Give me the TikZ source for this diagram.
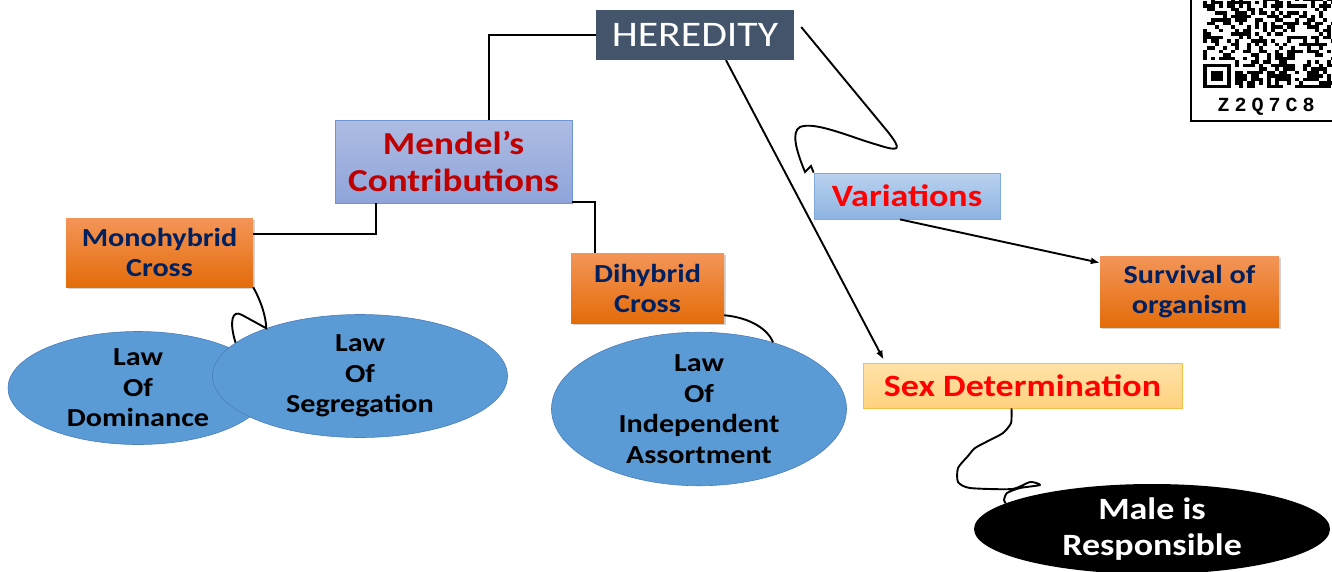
\documentclass[tikz,border=0pt]{standalone}
\usepackage{fontspec}
\setmainfont{Carlito}[FakeStretch=1.16]
\newfontfamily\qrfont{Liberation Mono}[LetterSpace=25]
\usetikzlibrary{shapes.geometric,shadows,arrows.meta}
\definecolor{slate}{HTML}{44546A}
\definecolor{navy}{HTML}{002060}
\definecolor{darkred}{HTML}{C00000}
\definecolor{brightred}{HTML}{FF0000}
\definecolor{orangetop}{HTML}{F39558}
\definecolor{orangebot}{HTML}{E46C0A}
\definecolor{lavtop}{HTML}{AEBCE3}
\definecolor{lavbot}{HTML}{8EA4D9}
\definecolor{lavedge}{HTML}{6E95D3}
\definecolor{skytop}{HTML}{BAD2EE}
\definecolor{skybot}{HTML}{8DB3E2}
\definecolor{skyedge}{HTML}{80AADB}
\definecolor{sandtop}{HTML}{FFE2A8}
\definecolor{sandbot}{HTML}{FFD27F}
\definecolor{sandedge}{HTML}{F7BE45}
\definecolor{lawblue}{HTML}{5B9BD5}
\definecolor{lawedge}{HTML}{4A7EBB}
\begin{document}
\begin{tikzpicture}[x=1pt,y=-1pt,
  link/.style={line width=1.9pt},
  tip/.style={-{Latex[length=9pt,width=7pt]}},
  crossbox/.style={rectangle,inner sep=0pt,align=center,text=navy,
    top color=orangetop,bottom color=orangebot,
    drop shadow={shadow xshift=2pt,shadow yshift=-2pt,opacity=0.35},
    font=\bfseries\fontsize{26}{30}\selectfont},
  lawblob/.style={ellipse,inner sep=0pt,align=center,fill=lawblue,
    draw=lawedge,line width=0.6pt,font=\bfseries\fontsize{26}{30.5}\selectfont},
  topicbox/.style={rectangle,inner sep=0pt,align=center,line width=0.8pt,
    font=\bfseries\fontsize{31}{37}\selectfont}]
\useasboundingbox (0,0) rectangle (1332,571);

\node [rectangle,fill=slate,text=white,minimum width=198pt,minimum height=50pt,
  font=\fontsize{36}{40}\selectfont] (heredity) at (695,35) {HEREDITY};
\node [topicbox,top color=lavtop,bottom color=lavbot,draw=lavedge,text=darkred,
  minimum width=237pt,minimum height=83pt,font=\bfseries\fontsize{32}{37}\selectfont]
  (mendel) at (453.5,161.5) {Mendel's\\Contributions};
\node [crossbox,minimum width=187pt,minimum height=69pt] (mono) at (159.5,252.5) {Monohybrid\\Cross};
\node [crossbox,minimum width=153pt,minimum height=70pt] (di) at (647.5,288) {Dihybrid\\Cross};
\node [crossbox,minimum width=179pt,minimum height=71pt] (surv) at (1189.5,291.5) {Survival of\\organism};
\node [topicbox,top color=skytop,bottom color=skybot,draw=skyedge,text=brightred,
  minimum width=186pt,minimum height=46pt] (var) at (907,196) {Variations};
\node [topicbox,top color=sandtop,bottom color=sandbot,draw=sandedge,text=brightred,
  minimum width=319pt,minimum height=45pt] (sex) at (1022.5,385.5) {Sex Determination};

\node [lawblob,minimum width=260pt,minimum height=113pt] (dom) at (138,388) {Law\\Of\\Dominance};
\node [lawblob,minimum width=295pt,minimum height=123pt] (seg) at (360,376) {Law\\Of\\Segregation};
\node [lawblob,minimum width=295pt,minimum height=145pt] (ind) at (699,409) {Law\\Of\\Independent\\Assortment};
\node [ellipse,fill=black,text=white,inner sep=0pt,align=center,minimum width=356pt,
  minimum height=90pt,font=\bfseries\fontsize{31}{36}\selectfont] (male) at (1152,529) {Male is\\Responsible};

\draw [link] (heredity.west) -| ([xshift=35.5pt]mendel.north);
\draw [link] ([xshift=-77.5pt]mendel.south) |- ([yshift=18.5pt]mono.east);
\draw [link] ([yshift=1pt]mendel.south east) -| ([xshift=-52.5pt]di.north);
\draw [link,tip] ([xshift=31pt]heredity.south) -- ([xshift=21pt,yshift=3pt]sex.north west);
\draw [link,tip] ([xshift=-7pt]var.south) -- ([yshift=-7pt]surv.north west);

\draw [link] ([shift={(7,-8)}]heredity.east) -- (888,132)
  .. controls (902,150) and (900,152) .. (878,145)
  .. controls (850,137) and (815,121) .. (800,127)
  .. controls (791,132) and (796,150) .. (805,172) -- (811,166) -- (var.north west);
\draw [link] (mono.south east) .. controls (262,303) and (266,318) .. (seg.153)
  -- (242,315) .. controls (232,309) and (229,322) .. (seg.165);
\draw [link] ([yshift=8pt]di.south east) .. controls (752,318) and (768,330) .. (ind.42);
\coordinate (sexfoot) at ([xshift=-11pt]sex.south);
\draw [link,line join=round] plot [smooth,tension=0.4] coordinates {(sexfoot) (1011,423)
  (1003,433) (990,440) (975,448) (968,456) (958,468) (958,482) (970,488) (1012,489)
  (1030,482) (1040,485) (1020,488) (1007,493) (1004,500) (male.170)};

\pgfmathsetseed{42}
\foreach \i in {0,...,32}
  \foreach \j in {0,...,25}
    {\pgfmathtruncatemacro\bit{rnd>0.5}
     \ifnum\i<8 \ifnum\j<8 \def\bit{0}\fi\fi
     \ifnum\bit=1 \fill (1203+4*\i,88-3.5*\j) rectangle ++(4,-3.5);\fi}
\fill (1203,63.5) rectangle (1231,88);
\fill [white] (1207,67) rectangle (1227,84.5);
\fill (1211,70.5) rectangle (1223,81);
\draw [line width=1.5pt] (1191,0) -- (1191,121) -- (1332,121);
\node [font=\qrfont\bfseries\fontsize{20}{20}\selectfont] (qrcode) at (1266,107) {Z2Q7C8};
\end{tikzpicture}
\end{document}
